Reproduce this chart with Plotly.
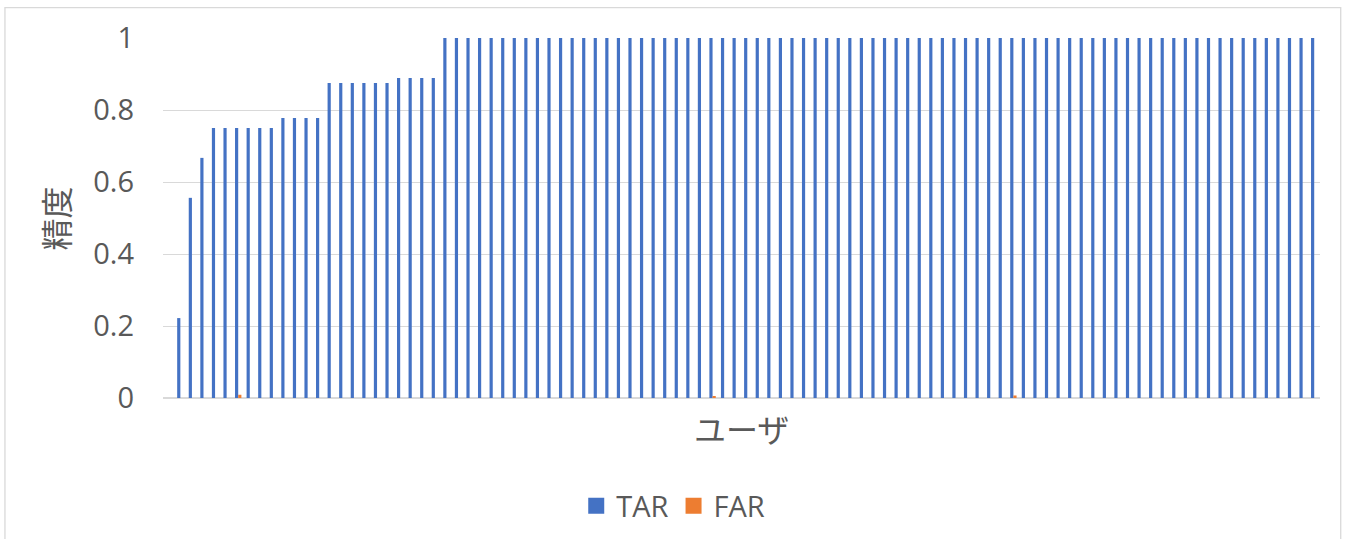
import plotly.graph_objects as go

# One entry per user, sorted by true acceptance rate
users = list(range(100))

tar = [
    0.0, 0.222, 0.556, 0.667, 0.75, 0.75, 0.75, 0.75, 0.75, 0.75,
    0.778, 0.778, 0.778, 0.778, 0.875, 0.875, 0.875, 0.875, 0.875, 0.875,
    0.889, 0.889, 0.889, 0.889, 1.0, 1.0, 1.0, 1.0, 1.0, 1.0,
    1.0, 1.0, 1.0, 1.0, 1.0, 1.0, 1.0, 1.0, 1.0, 1.0,
    1.0, 1.0, 1.0, 1.0, 1.0, 1.0, 1.0, 1.0, 1.0, 1.0,
    1.0, 1.0, 1.0, 1.0, 1.0, 1.0, 1.0, 1.0, 1.0, 1.0,
    1.0, 1.0, 1.0, 1.0, 1.0, 1.0, 1.0, 1.0, 1.0, 1.0,
    1.0, 1.0, 1.0, 1.0, 1.0, 1.0, 1.0, 1.0, 1.0, 1.0,
    1.0, 1.0, 1.0, 1.0, 1.0, 1.0, 1.0, 1.0, 1.0, 1.0,
    1.0, 1.0, 1.0, 1.0, 1.0, 1.0, 1.0, 1.0, 1.0, 1.0,
]

far = [
    0.0, 0.0, 0.0, 0.0, 0.0, 0.0, 0.009, 0.0, 0.0, 0.0,
    0.0, 0.0, 0.0, 0.0, 0.0, 0.0, 0.0, 0.0, 0.0, 0.0,
    0.0, 0.0, 0.0, 0.0, 0.0, 0.0, 0.0, 0.0, 0.0, 0.0,
    0.0, 0.0, 0.0, 0.0, 0.0, 0.0, 0.0, 0.0, 0.0, 0.0,
    0.0, 0.0, 0.0, 0.0, 0.0, 0.0, 0.0, 0.005, 0.0, 0.0,
    0.0, 0.0, 0.0, 0.0, 0.0, 0.0, 0.0, 0.0, 0.0, 0.0,
    0.0, 0.0, 0.0, 0.0, 0.0, 0.0, 0.0, 0.0, 0.0, 0.0,
    0.0, 0.0, 0.0, 0.007, 0.0, 0.0, 0.0, 0.0, 0.0, 0.0,
    0.0, 0.0, 0.0, 0.0, 0.0, 0.0, 0.0, 0.0, 0.0, 0.0,
    0.0, 0.0, 0.0, 0.0, 0.0, 0.0, 0.0, 0.0, 0.0, 0.0,
]

y_ticks = [0, 0.2, 0.4, 0.6, 0.8, 1]
y_tick_text = ["0", "0.2", "0.4", "0.6", "0.8", "1"]

series_names = ["TAR", "FAR"]
series_colors = ["#4472C4", "#ED7D31"]

TEXT = "#595959"
GRID = "#D9D9D9"
LATIN = "Open Sans, Noto Sans CJK JP, sans-serif"
CJK = "Noto Sans CJK JP, sans-serif"

fig = go.Figure()
for name, color, vals in zip(series_names, series_colors, [tar, far]):
    fig.add_trace(go.Bar(
        x=users, y=vals, name=name, legendgroup=name, showlegend=False,
        marker=dict(color=color, line_width=0),
    ))
# Legend keys drawn as larger squares
for name, color in zip(series_names, series_colors):
    fig.add_trace(go.Scatter(
        x=[None], y=[None], mode="markers", name=name, legendgroup=name,
        marker=dict(symbol="square", size=16, color=color),
    ))

fig.update_layout(
    width=1346,
    height=539,
    margin=dict(l=163, r=26, t=38, b=141, autoexpand=False),
    paper_bgcolor="white",
    plot_bgcolor="white",
    barmode="group",
    bargap=0.45,
    bargroupgap=0,
    font=dict(family=LATIN, color=TEXT, size=29),
    xaxis=dict(
        range=[-0.5, 99.5],
        showticklabels=False,
        showgrid=False,
        zeroline=False,
        showline=False,
        ticks="",
    ),
    yaxis=dict(
        range=[0, 1],
        tickvals=y_ticks,
        ticktext=y_tick_text,
        tickfont=dict(family=LATIN, size=29, color=TEXT),
        showgrid=True,
        gridcolor=GRID,
        gridwidth=1.3,
        zeroline=True,
        zerolinecolor=GRID,
        zerolinewidth=2,
        showline=False,
        ticks="",
        ticklabelstandoff=28,
    ),
    legend=dict(
        orientation="h",
        x=0.441,
        xanchor="center",
        y=-0.3,
        yanchor="middle",
        font=dict(family=LATIN, size=29, color=TEXT),
        traceorder="normal",
        itemsizing="trace",
        itemclick=False,
    ),
    annotations=[
        dict(
            text="ユーザ",
            xref="paper", yref="paper",
            x=0.5, y=-0.082,
            xanchor="center", yanchor="middle",
            showarrow=False,
            font=dict(family=CJK, size=32, color=TEXT),
        ),
        dict(
            text="精度",
            xref="paper", yref="paper",
            x=-0.093, y=0.5,
            xanchor="center", yanchor="middle",
            textangle=-90,
            showarrow=False,
            font=dict(family=CJK, size=32, color=TEXT),
        ),
    ],
    shapes=[
        dict(
            type="rect",
            xref="paper", yref="paper",
            x0=-0.1366, x1=1.0179, y0=-0.45, y1=1.0842,
            line=dict(color=GRID, width=1.3),
            fillcolor="rgba(0,0,0,0)",
            layer="below",
        )
    ],
)

fig.write_html("out.html")
